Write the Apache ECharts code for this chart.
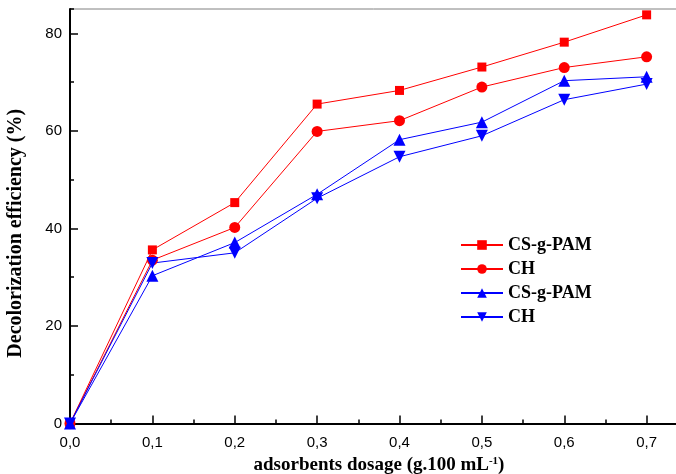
<!DOCTYPE html>
<html>
<head>
<meta charset="utf-8">
<script src="https://cdn.jsdelivr.net/npm/echarts@6/dist/echarts.min.js"></script>
<style>
  html, body { margin: 0; padding: 0; background: #fff; }
  #chart { width: 676px; height: 474px; }
</style>
</head>
<body>
<div id="chart"></div>
<script>
// adsorbent dosage (g.100 mL-1)
const dosage = [0, 0.1, 0.2, 0.3, 0.4, 0.5, 0.6, 0.7]
// decolorization efficiency (%)
const redSquare = [0, 35.6, 45.3, 65.5, 68.3, 73.1, 78.2, 83.8]
const redCircle = [0, 33.5, 40.2, 59.9, 62.1, 69.0, 73.0, 75.2]
const blueUp = [0, 30.3, 37.1, 47.0, 58.2, 61.8, 70.3, 71.1]
const blueDown = [0, 32.9, 35.0, 46.2, 54.7, 59.0, 66.4, 69.6]

const seriesKeys = ["s1", "s2", "s3", "s4"]
const legendLabels = ["CS-g-PAM", "CH", "CS-g-PAM", "CH"]

const pairs = vals => dosage.map((x, i) => [x, vals[i]])

const chart = echarts.init(document.getElementById("chart"))

const mk = (key, vals, color, symbol, size, rotate) => ({
    name: key,
    type: "line",
    data: pairs(vals),
    symbol, symbolSize: size, symbolRotate: rotate,
    color,
    lineStyle: {width: 1, color},
    itemStyle: {color},
    clip: false,
    animation: false
})

chart.setOption({
    animation: false,
    grid: {
        left: 70, top: 9, right: -53, bottom: 50.5,
        outerBoundsMode: "none", containLabel: false,
        show: true, borderColor: "#808080", borderWidth: 1
    },
    legend: {
        left: 455, top: 231, orient: "vertical",
        itemWidth: 42, itemHeight: 12, itemGap: 6,
        data: seriesKeys,
        formatter: name => legendLabels[seriesKeys.indexOf(name)],
        textStyle: {fontFamily: "Liberation Serif", fontWeight: "bold", fontSize: 18, color: "#000"}
    },
    xAxis: {
        type: "value", min: 0, max: 0.8, interval: 0.1,
        name: "adsorbents dosage (g.100 mL{sup|-1})",
        nameLocation: "middle", nameGap: 31,
        nameTextStyle: {
            fontFamily: "Liberation Serif", fontWeight: "bold", fontSize: 19, color: "#000",
            padding: [0, 41, 0, 0],
            rich: {sup: {fontFamily: "Liberation Serif", fontWeight: "bold", fontSize: 11, verticalAlign: "top", padding: [0, 0, 8, 0]}}
        },
        axisLine: {lineStyle: {color: "#000", width: 2}},
        axisTick: {inside: true, length: 8, lineStyle: {color: "#000", width: 1.5}},
        minorTick: {show: true, splitNumber: 2, length: 4, lineStyle: {color: "#000", width: 1.5}},
        splitLine: {show: false},
        axisLabel: {
            margin: 12, fontFamily: "Liberation Sans", fontSize: 15, color: "#000",
            formatter: v => v.toFixed(1).replace(".", ",")
        }
    },
    yAxis: [{
        type: "value", min: 0, max: 85, interval: 20,
        name: "Decolorization efficiency (%)",
        nameLocation: "middle", nameGap: 44,
        nameTextStyle: {
            fontFamily: "Liberation Serif", fontWeight: "bold", fontSize: 20, color: "#000",
            padding: [0, 34, 0, 0]
        },
        axisLine: {lineStyle: {color: "#000", width: 2}},
        axisTick: {inside: true, length: 8, lineStyle: {color: "#000", width: 1.5}},
        splitLine: {show: false},
        axisLabel: {margin: 8, showMaxLabel: false, fontFamily: "Liberation Sans", fontSize: 15, color: "#000"}
    }, {
        // minor ticks every 10
        type: "value", min: 0, max: 85, interval: 10, position: "left",
        axisLine: {show: false},
        axisTick: {inside: true, length: 4, lineStyle: {color: "#000", width: 1.5}},
        axisLabel: {show: false},
        splitLine: {show: false}
    }],
    series: [
        mk("s1", redSquare, "#ff0000", "rect", 9, 0),
        mk("s2", redCircle, "#ff0000", "circle", 11, 0),
        mk("s3", blueUp, "#0000ff", "triangle", 12, 0),
        mk("s4", blueDown, "#0000ff", "triangle", 12, 180)
    ]
})
</script>
</body>
</html>
